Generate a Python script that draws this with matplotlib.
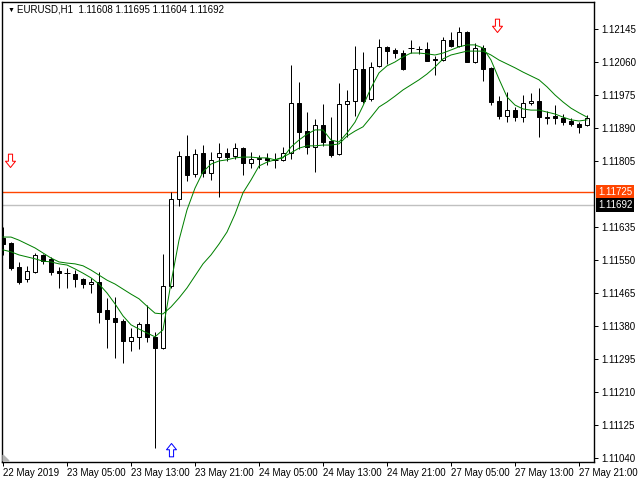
import matplotlib
matplotlib.use('Agg')
import matplotlib.pyplot as plt
from matplotlib.path import Path
from matplotlib.patches import Polygon
from matplotlib.transforms import Affine2D

plt.rcParams['font.family'] = ['Liberation Sans', 'DejaVu Sans']

# EURUSD H1, 22 May 21:00 .. 27 May 22:00 (bar index = hour bar)
opens = [1.11607, 1.11594, 1.11532, 1.11501, 1.11519, 1.11563, 1.11553, 1.11522, 1.11516, 1.11514,
         1.11501, 1.11488, 1.11493, 1.11421, 1.11401, 1.11393, 1.11341, 1.11352, 1.11385, 1.11352,
         1.11323, 1.11483, 1.11707, 1.11818, 1.11772, 1.11826, 1.11774, 1.11815, 1.11826, 1.11818,
         1.11838, 1.11800, 1.11810, 1.11813, 1.11808, 1.11808, 1.11826, 1.11954, 1.11882, 1.11841,
         1.11898, 1.11857, 1.11823, 1.11952, 1.11960, 1.12042, 1.11965, 1.12050, 1.12099, 1.12091,
         1.12083, 1.12096, 1.12094, 1.12094, 1.12068, 1.12065, 1.12117, 1.12101, 1.12137, 1.12060,
         1.12096, 1.12045, 1.11960, 1.11921, 1.11936, 1.11918, 1.11954, 1.11960, 1.11918, 1.11921,
         1.11916, 1.11908, 1.11900, 1.11898]
highs = [1.11635, 1.11596, 1.11545, 1.11535, 1.11568, 1.11565, 1.11558, 1.11532, 1.11529, 1.11524,
         1.11504, 1.11504, 1.11519, 1.11452, 1.11455, 1.11398, 1.11375, 1.11390, 1.11434, 1.11364,
         1.11565, 1.11725, 1.11831, 1.11872, 1.11836, 1.11846, 1.11828, 1.11851, 1.11838, 1.11851,
         1.11841, 1.11828, 1.11820, 1.11826, 1.11826, 1.11841, 1.12052, 1.12008, 1.11931, 1.11913,
         1.11952, 1.11918, 1.12006, 1.11988, 1.12101, 1.12086, 1.12060, 1.12119, 1.12101, 1.12096,
         1.12091, 1.12117, 1.12101, 1.12112, 1.12075, 1.12124, 1.12137, 1.12150, 1.12140, 1.12109,
         1.12104, 1.12047, 1.11972, 1.11983, 1.11944, 1.11975, 1.11980, 1.11993, 1.11934, 1.11949,
         1.11926, 1.11916, 1.11905, 1.11923]
lows = [1.11563, 1.11524, 1.11488, 1.11493, 1.11516, 1.11540, 1.11511, 1.11478, 1.11478, 1.11480,
        1.11478, 1.11465, 1.11388, 1.11323, 1.11297, 1.11285, 1.11316, 1.11321, 1.11339, 1.11066,
        1.11321, 1.11478, 1.11689, 1.11753, 1.11764, 1.11764, 1.11756, 1.11712, 1.11805, 1.11810,
        1.11769, 1.11787, 1.11787, 1.11795, 1.11787, 1.11805, 1.11810, 1.11836, 1.11823, 1.11777,
        1.11844, 1.11815, 1.11820, 1.11867, 1.11921, 1.11954, 1.11960, 1.12047, 1.12055, 1.12070,
        1.12039, 1.12083, 1.12081, 1.12063, 1.12027, 1.12063, 1.12099, 1.12099, 1.12060, 1.12057,
        1.12011, 1.11949, 1.11913, 1.11905, 1.11908, 1.11905, 1.11949, 1.11867, 1.11900, 1.11900,
        1.11898, 1.11895, 1.11877, 1.11895]
closes = [1.11591, 1.11529, 1.11493, 1.11522, 1.11563, 1.11547, 1.11519, 1.11516, 1.11514, 1.11501,
          1.11488, 1.11493, 1.11416, 1.11398, 1.11390, 1.11341, 1.11352, 1.11385, 1.11352, 1.11323,
          1.11483, 1.11707, 1.11818, 1.11769, 1.11823, 1.11774, 1.11808, 1.11826, 1.11815, 1.11838,
          1.11800, 1.11810, 1.11813, 1.11808, 1.11808, 1.11826, 1.11954, 1.11880, 1.11841, 1.11898,
          1.11854, 1.11820, 1.11952, 1.11960, 1.12042, 1.11960, 1.12047, 1.12099, 1.12088, 1.12083,
          1.12042, 1.12096, 1.12096, 1.12063, 1.12065, 1.12117, 1.12101, 1.12137, 1.12060, 1.12096,
          1.12042, 1.11957, 1.11921, 1.11936, 1.11918, 1.11954, 1.11960, 1.11918, 1.11916, 1.11916,
          1.11905, 1.11900, 1.11893, 1.11916]

fast_ma = [1.11576, 1.11571, 1.11563, 1.11558, 1.11553, 1.11547, 1.11545, 1.11540, 1.11537, 1.11527,
           1.11516, 1.11504, 1.11488, 1.11465, 1.11437, 1.11406, 1.11383, 1.11372, 1.11362, 1.11352,
           1.11370, 1.11491, 1.11601, 1.11679, 1.11735, 1.11777, 1.11797, 1.11805, 1.11808, 1.11813,
           1.11815, 1.11815, 1.11813, 1.11813, 1.11808, 1.11813, 1.11841, 1.11859, 1.11874, 1.11885,
           1.11885, 1.11859, 1.11854, 1.11877, 1.11905, 1.11947, 1.11993, 1.12032, 1.12050, 1.12060,
           1.12073, 1.12083, 1.12083, 1.12081, 1.12078, 1.12083, 1.12091, 1.12099, 1.12104, 1.12104,
           1.12096, 1.12065, 1.12016, 1.11970, 1.11949, 1.11939, 1.11936, 1.11936, 1.11931, 1.11926,
           1.11918, 1.11911, 1.11908, 1.11911]
slow_ma = [1.11609, 1.11609, 1.11601, 1.11591, 1.11581, 1.11568, 1.11555, 1.11545, 1.11542, 1.11540,
           1.11535, 1.11524, 1.11511, 1.11498, 1.11488, 1.11475, 1.11462, 1.11450, 1.11431, 1.11413,
           1.11411, 1.11429, 1.11452, 1.11478, 1.11509, 1.11540, 1.11563, 1.11591, 1.11622, 1.11668,
           1.11723, 1.11756, 1.11792, 1.11802, 1.11808, 1.11815, 1.11826, 1.11838, 1.11844, 1.11844,
           1.11846, 1.11846, 1.11849, 1.11869, 1.11882, 1.11893, 1.11918, 1.11944, 1.11957, 1.11972,
           1.11988, 1.12001, 1.12014, 1.12029, 1.12047, 1.12068, 1.12078, 1.12083, 1.12088, 1.12088,
           1.12088, 1.12078, 1.12065, 1.12055, 1.12045, 1.12034, 1.12024, 1.12014, 1.11996, 1.11975,
           1.11957, 1.11941, 1.11929, 1.11918]

tick_bars = [0, 8, 16, 24, 32, 40, 48, 56, 64, 72]
tick_labels = ['22 May 2019', '23 May 05:00', '23 May 13:00', '23 May 21:00', '24 May 05:00',
               '24 May 13:00', '24 May 21:00', '27 May 05:00', '27 May 13:00', '27 May 21:00']
price_ticks = [1.12145, 1.12060, 1.11975, 1.11890, 1.11805, 1.11635, 1.11550,
               1.11465, 1.11380, 1.11295, 1.11210, 1.11125, 1.11040]

ask_line = 1.11725
bid_line = 1.11692
title = 'EURUSD,H1  1.11608 1.11695 1.11604 1.11692'

# arrow signals (bar, price)
down_bars = [0.9, 61.8]
down_prices = [1.11802, 1.12150]
up_bars = [21]
up_prices = [1.11066]

fig = plt.figure(figsize=(6.4, 4.8), dpi=100)
ax = fig.add_axes([2 / 640, 18 / 480, 592 / 640, 460 / 480])
ax.set_xlim(-0.125, 73.875)
ax.set_ylim(1.110296, 1.122145)

px = 0.72  # one pixel in points
bars = list(range(len(opens)))
ax.vlines(bars, lows, highs, color='black', lw=px, zorder=2)
for i in bars:
    o, c = opens[i], closes[i]
    fill = 'white' if c >= o else 'black'
    h = abs(c - o)
    if h < 0.00002:
        ax.hlines(o, i - 0.32, i + 0.32, color='black', lw=px, zorder=3)
    else:
        ax.bar(i, h, bottom=min(o, c), width=0.6, color=fill, edgecolor='black',
               linewidth=px, zorder=3)

ax.plot(bars, slow_ma, color='#008000', lw=px, zorder=4)
ax.plot(bars, fast_ma, color='#008000', lw=px, zorder=4)

ax.axhline(ask_line, color='#FF4500', lw=1.0, zorder=1)
ax.axhline(bid_line, color='#C0C0C0', lw=1.0, zorder=1)

# hollow arrows
down = Path([(-0.25, 1), (0.25, 1), (0.25, 0.15), (0.6, 0.15), (0, -0.6), (-0.6, 0.15),
             (-0.25, 0.15), (-0.25, 1)],
            [Path.MOVETO] + [Path.LINETO] * 6 + [Path.CLOSEPOLY])
up = Path([(x, -y) for x, y in down.vertices], down.codes)
ax.plot(down_bars, down_prices, ls='none', marker=down, ms=12, mfc='white', mec='red',
        mew=px, zorder=5, clip_on=False)
ax.plot(up_bars, up_prices, ls='none', marker=up, ms=12, mfc='white', mec='blue',
        mew=px, zorder=5)

# small grey corner marker (pixels from the lower-left corner)
x0, y0 = ax.transAxes.transform((0, 0))
corner = Polygon([(0, 0), (6, 0), (0, 6)], closed=True, color='#B4B4B4', zorder=6,
                 transform=Affine2D().translate(x0 + 1, y0 + 1))
ax.add_patch(corner)

ax.yaxis.tick_right()
ax.set_yticks(price_ticks)
ax.set_yticklabels(['%.5f' % p for p in price_ticks])
ax.set_xticks(tick_bars)
ax.set_xticklabels(tick_labels, ha='left')
ax.tick_params(axis='both', direction='out', length=3, width=px, labelsize=7,
               colors='black', pad=2)
ax.tick_params(axis='x', pad=1)
for s in ax.spines.values():
    s.set_linewidth(1.0)
    s.set_color('black')

# price boxes on the right scale
for val, col in [(ask_line, '#FF4500'), (bid_line, 'black')]:
    ax.annotate('%.5f' % val, xy=(1, val), xycoords=('axes fraction', 'data'),
                xytext=(4, 0), textcoords='offset pixels', va='center', ha='left',
                fontsize=7, color='white',
                bbox=dict(boxstyle='square,pad=0.18', fc=col, ec='none'))

fig.text(8 / 640, 1 - 10 / 480, '\u25bc', fontsize=5, va='center', ha='left')
fig.text(17 / 640, 1 - 10 / 480, title, fontsize=7, va='center', ha='left')

fig.savefig('out.png', dpi=100, facecolor='white')
